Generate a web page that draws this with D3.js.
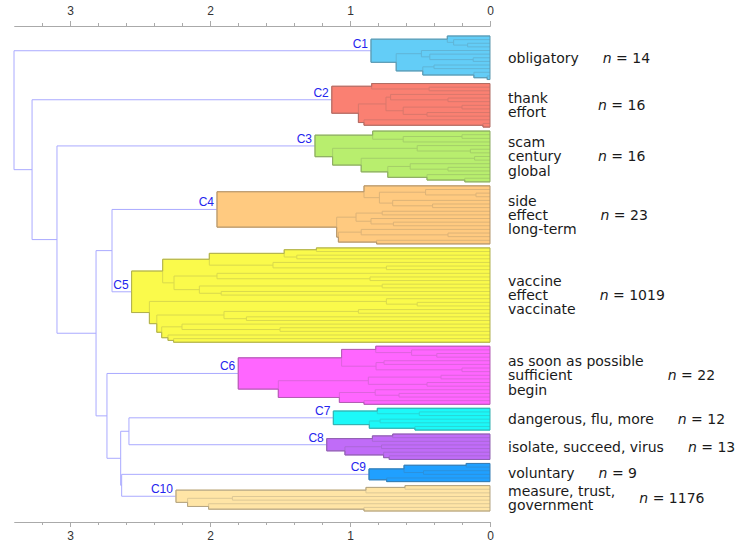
<!DOCTYPE html>
<html>
<head>
<meta charset="utf-8">
<script src="https://cdn.jsdelivr.net/npm/d3@7"></script>
<style>
  body { margin: 0; background: #fff; }
  svg { display: block; }
</style>
</head>
<body>
<svg id="chart" width="740" height="545"></svg>
<script>
// ---------------- DATA ----------------
const clusterNames = ["C1", "C2", "C3", "C4", "C5", "C6", "C7", "C8", "C9", "C10"];
const clusterTerms = [
  ["obligatory"],
  ["thank", "effort"],
  ["scam", "century", "global"],
  ["side", "effect", "long-term"],
  ["vaccine", "effect", "vaccinate"],
  ["as soon as possible", "sufficient", "begin"],
  ["dangerous, flu, more"],
  ["isolate, succeed, virus"],
  ["voluntary"],
  ["measure, trust,", "government"]
];
const clusterSizes = [14, 16, 16, 23, 1019, 22, 12, 13, 9, 1176];
const clusterColors = ["#63cdf7", "#fa8072", "#b8ee6e", "#ffca80", "#fafa4b",
                       "#ff66ff", "#1cf8f8", "#c06cf8", "#20a0ff", "#ffe5a6"];

// Sub-dendrograms inside each cluster: [mergeHeight, child, child]; 0 = leaf
const c1Tree = [0.85, [0.305, 0, [0.26, 0, [0.16, 0, 0]]],
                      [0.67, [0.49, 0, [0.43, 0, [0.12, 0, 0]]], [0.48, [0.40, 0, 0], [0.115, 0, [0.02, 0, 0]]]]];
const c2Tree = [1.13, [0.845, 0, [0.435, 0, 0]],
                      [0.94, [0.743, [0.71, 0, [0.30, 0, 0]], [0.62, [0.20, 0, 0], [0.45, 0, 0]]], [0.90, 0, [0.05, 0, 0]]]];
const c3Tree = [1.25, [0.838, 0, [0.62, [0.20, 0, 0], 0]],
                      [1.124, [0.52, 0, [0.14, 0, 0]], [0.92, [0.11, 0, 0], [0.73, [0.57, 0, [0.30, 0, 0]], [0.45, 0, [0.18, 0, 0]]]]]];
const c4Tree = [1.95, [0.90, 0, [0.79, [0.46, 0, [0.10, 0, 0]], [0.695, 0, [0.41, 0, 0]]]],
                      [1.095, [0.957, [0.77, 0, 0], [0.85, 0, [0.69, 0, 0]]], [1.083, [0.92, 0, [0.30, 0, 0]], [0.81, 0, 0]]]];
const c5Tree = [2.56,
  [2.338,
    [2.005, [1.47, [1.24, 0, 0], [1.38, 0, 0]], [1.55, 0, [0.74, 0, 0]]],
    [2.257, [1.95, 0, [0.857, 0, 0]], [2.076, [0.77, 0, 0], [1.92, 0, 0]]]],
  [2.433,
    [0.74, 0, [0.52, 0, 0]],
    [2.38, [1.90, [0.94, 0, 0], [1.74, 0, 0]], [2.345, [2.20, 0, [1.50, 0, 0]], [2.30, 0, [2.26, 0, 0]]]]]];
const c6Tree = [1.798, [1.06, [0.816, 0, [0.56, 0, [0.38, 0, 0]]], [0.814, [0.757, 0, 0], [0.20, 0, 0]]],
                       [1.512, [0.869, [0.35, 0, 0], [0.45, 0, 0]], [1.076, [0.82, 0, [0.65, 0, 0]], [0.90, 0, 0]]]];
const c7Tree = [1.119, [0.805, 0, [0.505, 0, 0]], [0.862, [0.785, 0, 0], [0.536, 0, 0]]];
const c8Tree = [1.166, [0.84, [0.695, 0, 0], 0], [1.036, [0.775, 0, 0], [0.76, 0, [0.72, 0, 0]]]];
const c9Tree = [0.864, [0.614, [0.17, 0, 0], [0.475, 0, 0]], [0.738, 0, 0]];
const c10Tree = [2.243, [0.886, [0.607, 0, 0], 0], [2.16, [1.84, 0, 0], [2.01, 0, [0.90, 0, 0]]]];
const clusterTrees = [c1Tree, c2Tree, c3Tree, c4Tree, c5Tree, c6Tree, c7Tree, c8Tree, c9Tree, c10Tree];

// Upper tree joining clusters: [mergeHeight, child, child]; number = cluster index
const upperTree = [3.40, 0, [3.271, 1, [3.093, 2, [2.814, [2.70, 3, 4],
                   [2.736, 5, [2.638, [2.579, 6, 7], [2.631, 8, 9]]]]]]];

const majorTicks = [0, 1, 2, 3];
const minorTicks = [0.2, 0.4, 0.6, 0.8, 1.2, 1.4, 1.6, 1.8, 2.2, 2.4, 2.6, 2.8, 3.2];

// ---------------- LAYOUT ----------------
const svg = d3.select("#chart");
const W = 740, H = 545;
const xLeft = 14, xRight = 490, yTop = 36, yBottom = 511, clusterGap = 4;
const axisTopY = 26, axisBottomY = 522;

const x = d3.scaleLinear().domain([upperTree[0], 0]).range([xLeft, xRight]);

const kids = d => Array.isArray(d) ? d.slice(1) : null;
const hOf = d => Array.isArray(d) ? d[0] : 0;

const roots = clusterTrees.map(t => d3.hierarchy(t, kids));
const leafCounts = roots.map(r => r.leaves().length);
const totalSteps = d3.sum(leafCounts, c => c - 1);
const step = (yBottom - yTop - clusterGap * (roots.length - 1)) / totalSteps;

let cursor = yTop;
roots.forEach((r, i) => {
  r.leaves().forEach((l, j) => { l.py = cursor + j * step; });
  r.yMin = cursor;
  r.yMax = cursor + (leafCounts[i] - 1) * step;
  cursor = r.yMax + clusterGap;
  r.eachAfter(n => {
    n.px = x(hOf(n.data));
    if (n.children) n.py = (n.children[0].py + n.children[n.children.length - 1].py) / 2;
  });
});

const upper = d3.hierarchy(upperTree, kids);
upper.eachAfter(n => {
  if (n.children) {
    n.px = x(n.data[0]);
    n.py = (n.children[0].py + n.children[n.children.length - 1].py) / 2;
  } else {
    const r = roots[n.data];
    n.px = r.px; n.py = r.py;
  }
});

// ---------------- AXES ----------------
const axisFont = "'Liberation Sans', Arial, sans-serif";
function styleAxis(g) {
  g.selectAll("path.domain").attr("stroke", "#aaa");
  g.selectAll(".tick line").attr("stroke", "#aaa");
  g.selectAll(".tick text").attr("fill", "#333").style("font-family", axisFont).style("font-size", "12px");
}
const topMinor = svg.append("g").attr("transform", `translate(0,${axisTopY})`)
  .call(d3.axisTop(x).tickValues(minorTicks).tickSize(3).tickSizeOuter(0).tickFormat(""));
const topMajor = svg.append("g").attr("transform", `translate(0,${axisTopY})`)
  .call(d3.axisTop(x).tickValues(majorTicks).tickSize(5).tickSizeOuter(0).tickPadding(6).tickFormat(d3.format("d")));
const botMinor = svg.append("g").attr("transform", `translate(0,${axisBottomY})`)
  .call(d3.axisBottom(x).tickValues(minorTicks).tickSize(3).tickSizeOuter(0).tickFormat(""));
const botMajor = svg.append("g").attr("transform", `translate(0,${axisBottomY})`)
  .call(d3.axisBottom(x).tickValues(majorTicks).tickSize(5).tickSizeOuter(0).tickPadding(4).tickFormat(d3.format("d")));
[topMinor, topMajor, botMinor, botMajor].forEach(styleAxis);

// ---------------- UPPER LINKS ----------------
const linkSegs = [];
upper.descendants().filter(n => n.children).forEach(n => {
  const a = n.children[0], b = n.children[n.children.length - 1];
  linkSegs.push(`M${n.px},${a.py}V${b.py}`);
  n.children.forEach(c => linkSegs.push(`M${n.px},${c.py}H${c.px}`));
});
svg.append("path").attr("d", linkSegs.join("")).attr("fill", "none")
  .attr("stroke", "#aaaaff").attr("stroke-width", 1);

// ---------------- CLUSTERS ----------------
roots.forEach((r, i) => {
  const g = svg.append("g");
  const fill = clusterColors[i];
  const inner = d3.interpolateRgb(fill, "#555")(0.2);
  const border = d3.interpolateRgb(fill, "#555")(0.45);

  const topPts = [[r.px, r.py]];
  let n = r;
  while (n.children) { const c = n.children[0]; topPts.push([n.px, c.py], [c.px, c.py]); n = c; }
  const botPts = [[r.px, r.py]];
  n = r;
  while (n.children) { const c = n.children[n.children.length - 1]; botPts.push([n.px, c.py], [c.px, c.py]); n = c; }
  const outline = d3.line()(topPts.concat(botPts.reverse())) + "Z";

  g.append("path").attr("d", outline).attr("fill", fill).attr("stroke", "none");

  const segs = [];
  r.descendants().filter(d => d.children).forEach(d => {
    const a = d.children[0], b = d.children[d.children.length - 1];
    segs.push(`M${d.px},${a.py}V${b.py}`);
    d.children.forEach(c => segs.push(`M${d.px},${c.py}H${c.px}`));
  });
  g.append("path").attr("d", segs.join("")).attr("fill", "none")
    .attr("stroke", inner).attr("stroke-width", 1);
  g.append("path").attr("d", outline).attr("fill", "none")
    .attr("stroke", border).attr("stroke-width", 1);

  // cluster name
  svg.append("text").attr("x", r.px - 3).attr("y", r.py - 3)
    .attr("text-anchor", "end").attr("fill", "#2424ee")
    .style("font-family", axisFont).style("font-size", "12px")
    .text(clusterNames[i]);

  // terms and size
  const cy = (r.yMin + r.yMax) / 2;
  const lines = clusterTerms[i];
  const lh = 14.3;
  const tx = 508;
  let maxW = 0;
  lines.forEach((t, j) => {
    const el = svg.append("text").attr("x", tx)
      .attr("y", cy + 5 + (j - (lines.length - 1) / 2) * lh)
      .attr("fill", "#1a1a1a")
      .style("font-family", "'DejaVu Sans', sans-serif").style("font-size", "14px")
      .text(t);
    maxW = Math.max(maxW, el.node().getComputedTextLength());
  });
  const nx = Math.max(598, tx + maxW + 24);
  const nt = svg.append("text").attr("x", nx).attr("y", cy + 5)
    .attr("fill", "#1a1a1a")
    .style("font-family", "'DejaVu Sans', sans-serif").style("font-size", "14px");
  nt.append("tspan").style("font-style", "italic").text("n");
  nt.append("tspan").text(" = " + clusterSizes[i]);
});
</script>
</body>
</html>
